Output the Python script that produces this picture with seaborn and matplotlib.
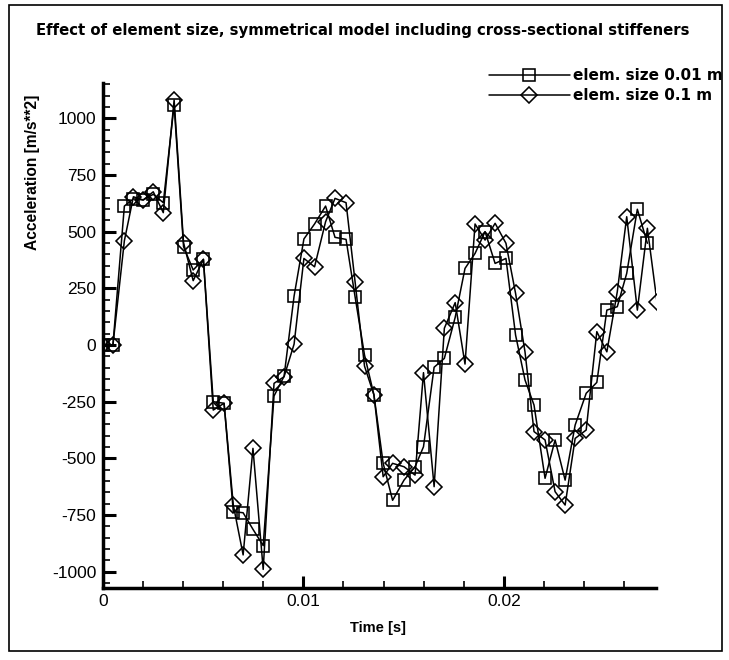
import matplotlib
matplotlib.use("Agg")
import matplotlib.pyplot as plt
import seaborn as sns
import numpy as np
from matplotlib.ticker import MultipleLocator, FixedLocator
from matplotlib.patches import Rectangle

# ---------------- data ----------------
time_s = [0.0, 0.00051, 0.00108, 0.00153, 0.00202, 0.00252, 0.00302, 0.00356,
          0.00403, 0.00451, 0.00502, 0.00551, 0.00605, 0.00651, 0.00700, 0.00749,
          0.00800, 0.00854, 0.00904, 0.00954, 0.01003, 0.01056, 0.01111, 0.01158,
          0.01213, 0.01258, 0.01305, 0.01352, 0.01398, 0.01445, 0.01502, 0.01557,
          0.01599, 0.01652, 0.01703, 0.01757, 0.01806, 0.01856, 0.01906, 0.01956,
          0.02010, 0.02058, 0.02105, 0.02150, 0.02205, 0.02255, 0.02305, 0.02355,
          0.02410, 0.02463, 0.02513, 0.02565, 0.02612, 0.02665, 0.02715, 0.02763]

acc_fine = [0, 0, 613, 645, 640, 665, 628, 1059, 434, 331, 378, -250, -257, -735,
            -740, -813, -885, -225, -138, 216, 468, 534, 613, 475, 466, 213, -44,
            -220, -522, -685, -596, -537, -449, -98, -59, 122, 338, 404, 500, 360,
            382, 44, -154, -265, -588, -419, -596, -353, -213, -165, 154, 169, 316,
            599, 449]

acc_coarse = [0, 0, 460, 654, 640, 676, 584, 1081, 451, 284, 378, -287, -257, -706,
              -926, -456, -990, -169, -140, 4, 382, 345, 544, 647, 628, 279, -93,
              -220, -581, -522, -537, -574, -122, -625, 74, 187, -84, 534, 463, 537,
              449, 228, -30, -382, -419, -647, -706, -412, -375, 59, -30, 235, 566,
              154, 515, 190]

series_labels = ["elem. size 0.01 m", "elem. size 0.1 m"]
x_ticks = [0.0, 0.01, 0.02]
x_tick_labels = ["0", "0.01", "0.02"]
y_ticks = [-1000, -750, -500, -250, 0, 250, 500, 750, 1000]
y_tick_labels = ["-1000", "-750", "-500", "-250", "0", "250", "500", "750", "1000"]
title = "Effect of element size, symmetrical model including cross-sectional stiffeners"
x_label = "Time [s]"
y_label = "Acceleration [m/s**2]"

# ---------------- style ----------------
sns.set_theme(style="white")
plt.rcParams["font.family"] = ["Liberation Sans", "DejaVu Sans"]
plt.rcParams["text.color"] = "black"
plt.rcParams["axes.labelcolor"] = "black"
plt.rcParams["xtick.color"] = "black"
plt.rcParams["ytick.color"] = "black"

W, H = 729, 660
fig = plt.figure(figsize=(W / 100, H / 100), dpi=100)
fig.patch.set_facecolor("white")

x0, x1, y0, y1 = 102.7, 656, 83, 588  # axes box in pixels (top-left origin)
ax = fig.add_axes([x0 / W, 1 - y1 / H, (x1 - x0) / W, (y1 - y0) / H])
ax.set_facecolor("white")

common = dict(color="black", lw=1.1, mfc="none", mec="black", mew=1.15, sort=False)
sns.lineplot(x=time_s[:len(acc_fine)], y=acc_fine, ax=ax, marker="s", ms=9,
             label=series_labels[0], **common)
sns.lineplot(x=time_s[:len(acc_coarse)], y=acc_coarse, ax=ax, marker="D", ms=8,
             label=series_labels[1], **common)

ax.set_xlim(0, 0.02758)
ax.set_ylim(-1072, 1156)

ax.xaxis.set_major_locator(FixedLocator(x_ticks))
ax.set_xticklabels(x_tick_labels)
ax.xaxis.set_minor_locator(MultipleLocator(0.002))
ax.yaxis.set_major_locator(FixedLocator(y_ticks))
ax.set_yticklabels(y_tick_labels)
ax.yaxis.set_minor_locator(MultipleLocator(50))

ax.tick_params(which="major", direction="in", length=9, width=2.2, color="black",
               labelsize=12.5, labelcolor="black")
ax.tick_params(which="minor", direction="in", length=5, width=1.2, color="black")
ax.tick_params(axis="y", which="major", pad=4.5)
ax.tick_params(axis="x", which="major", pad=4)
ax.tick_params(top=False, right=False, which="both")
ax.tick_params(left=True, bottom=True, which="both")

for s in ["top", "right"]:
    ax.spines[s].set_visible(False)
for s in ["left", "bottom"]:
    ax.spines[s].set_visible(True)
    ax.spines[s].set_linewidth(2.5)
    ax.spines[s].set_color("black")
ax.grid(False)

ax.set_xlabel("")
ax.set_ylabel("")
fig.text(378 / W, 1 - 628 / H, x_label, ha="center", va="center",
         fontsize=10.5, fontweight="bold", color="black")
fig.text(33 / W, 1 - 172 / H, y_label, ha="center", va="center", rotation=90,
         fontsize=11.2, fontweight="bold", color="black")
fig.text(363 / W, 1 - 30 / H, title, ha="center", va="center",
         fontsize=10.7, fontweight="bold", family=["DejaVu Sans"], color="black")

leg = ax.legend(loc="upper left", bbox_to_anchor=(489 / W, 1 - 68 / H),
                bbox_transform=fig.transFigure, frameon=False,
                handlelength=5.3, handletextpad=0.2, borderpad=0, borderaxespad=0,
                labelspacing=0.35,
                prop={"weight": "bold", "size": 11, "family": ["DejaVu Sans"]})
for t in leg.get_texts():
    t.set_color("black")

fig.patches.append(Rectangle((9 / W, 1 - 651 / H), (722 - 9) / W, (651 - 5) / H,
                             transform=fig.transFigure, fill=False, lw=1.2,
                             ec="black"))

fig.savefig("out.png", dpi=100)
